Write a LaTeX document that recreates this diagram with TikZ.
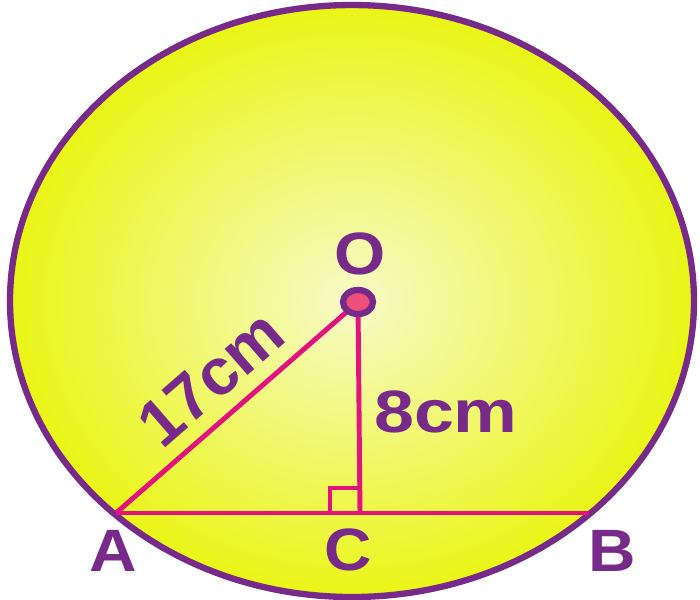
\documentclass[tikz,border=0pt]{standalone}
\usepackage{fontspec}
\setmainfont{Liberation Sans}
\definecolor{rim}{RGB}{120,42,138}
\definecolor{segpink}{RGB}{226,18,128}
\definecolor{sun}{RGB}{234,245,22}
\definecolor{glow}{RGB}{248,250,200}
\definecolor{dotpink}{RGB}{238,80,122}
\begin{document}
\begin{tikzpicture}[x=0.01cm,y=-0.01cm,
  lbl/.style={text=rim,inner sep=0pt,font=\bfseries\fontsize{17}{17}\selectfont},
  seg/.style={segpink,line width=1.4pt}]
\useasboundingbox (0,0) rectangle (700,599);
\shade[inner color=glow,outer color=sun](352,301)ellipse(342 and 296);
\draw[rim,line width=1.8pt](352,301)ellipse(342 and 296);

\coordinate (A) at (116,513);
\coordinate (B) at (589,513);
\coordinate (C) at (360,513);
\coordinate (O) at (358,302);

\draw[seg](A)--(B);
\draw[seg](A)--(O);
\draw[seg](O)--(C);
\draw[seg](C)++(-30,0)--++(0,-25)--++(30,0);
\filldraw[draw=rim,fill=dotpink,line width=1.8pt](O)ellipse(15 and 12);

\node[lbl,xscale=1.1] (lO) at (360,254){O};
\node[lbl,xscale=1.1] (lA) at (113,551){A};
\node[lbl,xscale=1.1] (lC) at (348,550){C};
\node[lbl,xscale=1.1] (lB) at (612,551){B};
\node[lbl,xscale=1.2] (lOC) at (446,412){8cm};
\node[lbl,rotate=41,scale=1.1] (lOA) at (211,378){17cm};
\end{tikzpicture}
\end{document}
